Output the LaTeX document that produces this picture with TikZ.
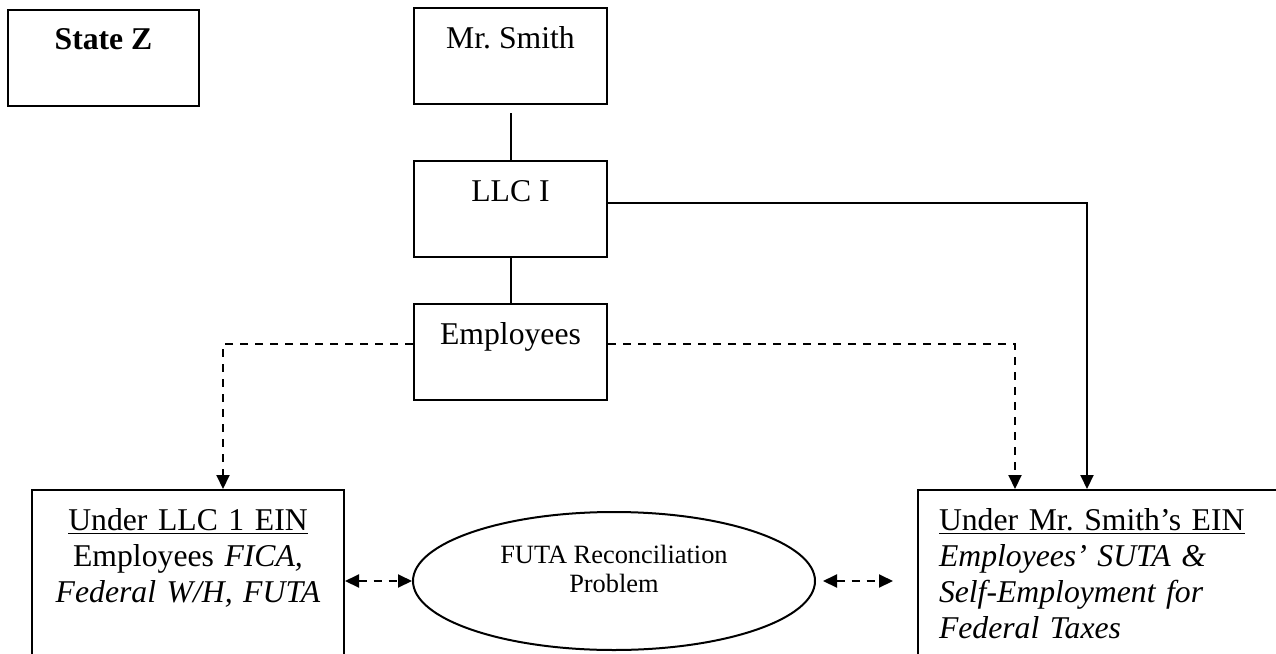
\documentclass[tikz,border=0pt]{standalone}
\usepackage{fontspec}
\setmainfont{Liberation Serif}
\usetikzlibrary{arrows.meta,shapes.geometric,positioning}

\tikzset{every picture/.style={line width=1pt}}
\tikzset{
  box/.style={draw, rectangle, minimum width=#1, inner sep=0pt,
                text height=20pt, text depth=28pt},
  box/.default={96.5pt}, % width of the small boxes
  ebox/.style={draw, rectangle, anchor=north west, inner ysep=9pt,
                text depth=90pt},
  dashline/.style={dash pattern=on 4pt off 3.5pt},
  tip/.style={-{Triangle[length=7pt,width=6.5pt]}},
  twotip/.style={{Triangle[length=7pt,width=6.5pt]}-{Triangle[length=7pt,width=6.5pt]}},
}
\def\gap{27.5pt}

\begin{document}
\begin{tikzpicture}[x=0.5pt, y=-0.5pt,
    every node/.style={font=\fontsize{15.85}{18}\selectfont\frenchspacing}]
  \useasboundingbox (0,0) rectangle (1276,654);
  % top boxes | the chain below Mr. Smith is placed relative to it
  \node[box=95.5pt] (statez) at (103.5,57.5) {\textbf{State Z}};
  \node[box] (smith) at (510.5,56) {Mr. Smith};
  \node[box, below=\gap of smith] (llc) {LLC I};
  \node[box, below=22.5pt of llc] (emp) {Employees};

  % bottom boxes | run past the edge of the page
  \node[ebox, inner xsep=4pt, text width=148pt, align=center] (lbox) at (31,489)
    {\underline{Under LLC 1 EIN}\\ Employees \textit{FICA,}\\ \textit{Federal W/H, FUTA}};
  \node[ebox, inner xsep=10.5pt, text width=179pt, align=left] (rbox) at (917,489)
    {\underline{Under Mr. Smith’s EIN}\\ \textit{Employees’ SUTA \&}\\
     \textit{Self-Employment for}\\ \textit{Federal Taxes}};
  \node[draw, ellipse, minimum width=201pt, minimum height=69pt, inner sep=0pt,
    align=center, text depth=12pt, font=\fontsize{13.2}{14.5}\selectfont] (futa) at (614,581)
    {FUTA Reconciliation\\ Problem};

  % connectors
  \draw[shorten <=4pt] (smith) -- (llc);
  \draw (llc) -- (emp);
  \draw[tip] ([yshift=3pt]llc.east) -| ([xshift=-15.5pt]rbox.north);
  \draw[dashline, tip] (emp.base west) -| ([xshift=17.5pt]lbox.north);
  \draw[dashline, tip] (emp.base east) -| ([xshift=-51.5pt]rbox.north);
  \draw[dashline, twotip] (lbox.east |- futa.west) -- (futa.west);
  \draw[dashline, twotip, shorten <=3.5pt, shorten >=12pt] (futa.east) -- (futa.east -| rbox.west);
\end{tikzpicture}
\end{document}
